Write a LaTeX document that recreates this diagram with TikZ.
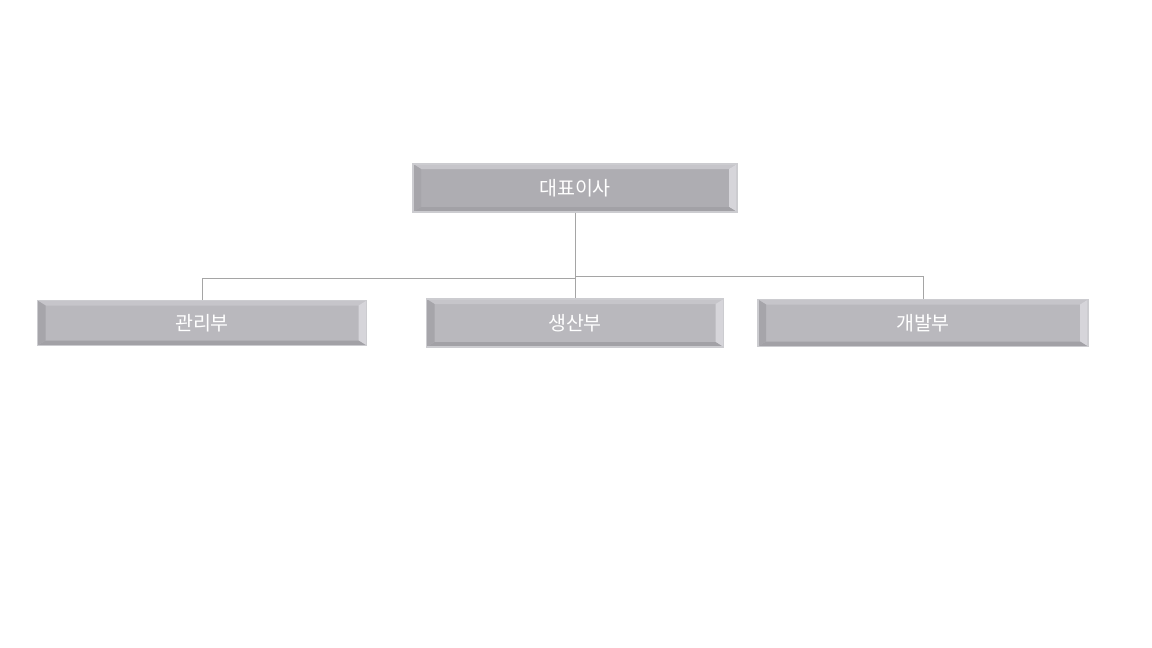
\documentclass[tikz,border=0pt]{standalone}
\usepackage{fontspec}
\newfontfamily\kr{Noto Sans CJK KR}
\usetikzlibrary{positioning}

\definecolor{edgegray}{RGB}{204,204,208}
\definecolor{facedark}{RGB}{174,173,178}
\definecolor{facelight}{RGB}{185,184,189}
\definecolor{bevlight}{RGB}{198,197,202}
\definecolor{bevpale}{RGB}{214,213,218}
\definecolor{bevdark}{RGB}{162,161,166}
\definecolor{bevmid}{RGB}{166,165,170}
\definecolor{linkgray}{RGB}{165,165,165}

\tikzset{
  unit/.style={rectangle, draw=edgegray, line width=1.6pt, fill=facelight,
    text=white, inner sep=0pt, font=\kr\fontsize{19.5}{22}\selectfont,
    path picture={
      \path (path picture bounding box.north west) coordinate (nw)
            (path picture bounding box.north east) coordinate (ne)
            (path picture bounding box.south west) coordinate (sw)
            (path picture bounding box.south east) coordinate (se);
      \fill[bevlight] (nw) -- (ne) -- ([shift={(-8pt,-5pt)}]ne) -- ([shift={(8pt,-5pt)}]nw) -- cycle;
      \fill[bevpale] (ne) -- (se) -- ([shift={(-8pt,5pt)}]se) -- ([shift={(-8pt,-5pt)}]ne) -- cycle;
      \fill[bevdark] (se) -- (sw) -- ([shift={(8pt,5pt)}]sw) -- ([shift={(-8pt,5pt)}]se) -- cycle;
      \fill[bevmid] (sw) -- (nw) -- ([shift={(8pt,-5pt)}]nw) -- ([shift={(8pt,5pt)}]sw) -- cycle;
    }},
  link/.style={draw=linkgray, line width=0.8pt}
}

\begin{document}
\begin{tikzpicture}[on grid, node distance=135pt]
\useasboundingbox (0,0) rectangle (1152pt,-648pt);

\node[unit, fill=facedark, minimum width=324pt, minimum height=48pt] (ceo) at (575pt,-188pt) {대표이사};
\node[unit, minimum width=297pt, minimum height=48pt] (prod) [below=of ceo] {생산부};
\node[unit, minimum width=329pt, minimum height=45pt] (mgmt) [left=373pt of prod] {관리부};
\node[unit, minimum width=330pt, minimum height=47pt] (dev) [right=348pt of prod] {개발부};

\draw[link] (ceo.south) -- (prod.north);
\draw[link] (ceo.south) ++(0,-66pt) -| (mgmt.north);
\draw[link] (ceo.south) ++(0,-64pt) -| (dev.north);
\end{tikzpicture}
\end{document}
